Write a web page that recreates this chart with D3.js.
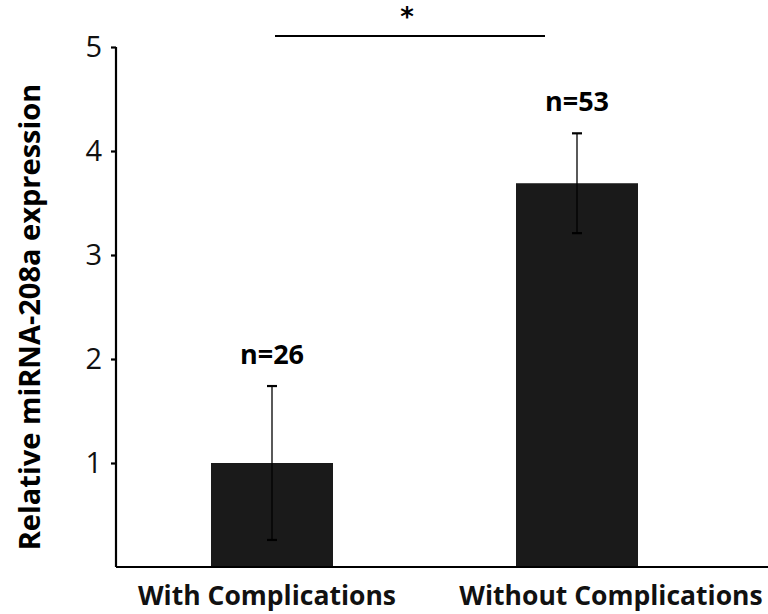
<!DOCTYPE html>
<html>
<head>
<meta charset="utf-8">
<script src="https://cdn.jsdelivr.net/npm/d3@7"></script>
<style>
  body { margin: 0; background: #fff; }
  svg { display: block; }
</style>
</head>
<body>
<div id="chart"></div>
<script>
// data
var groups = ["With Complications", "Without Complications"];
var means = [1.0, 3.69];
var errs = [0.74, 0.48];
var counts = ["n=26", "n=53"];
var yTicks = [1, 2, 3, 4, 5];

var width = 768, height = 614;

var svg = d3.select("#chart").append("svg")
  .attr("width", width)
  .attr("height", height);

// scales
var y = d3.scaleLinear().domain([0, 5]).range([567, 47]);
var x = d3.scaleBand().domain(groups).range([211, 638]).paddingInner(0.6);

// bars
svg.selectAll(".bar")
  .data(means)
  .enter()
  .append("rect")
  .attr("class", "bar")
  .attr("x", function(d, i) { return x(groups[i]); })
  .attr("y", function(d) { return y(d); })
  .attr("width", x.bandwidth())
  .attr("height", function(d) { return y(0) - y(d); })
  .style("fill", "#1a1a1a");

// error bars
var cap = 5;
var eb = svg.selectAll(".err")
  .data(means)
  .enter()
  .append("g")
  .attr("class", "err");
eb.append("line")
  .attr("x1", function(d, i) { return x(groups[i]) + x.bandwidth() / 2; })
  .attr("x2", function(d, i) { return x(groups[i]) + x.bandwidth() / 2; })
  .attr("y1", function(d, i) { return y(d + errs[i]); })
  .attr("y2", function(d, i) { return y(d - errs[i]); })
  .style("stroke", "#000")
  .style("stroke-width", 1.3);
[1, -1].forEach(function(s) {
  eb.append("line")
    .attr("x1", function(d, i) { return x(groups[i]) + x.bandwidth() / 2 - cap; })
    .attr("x2", function(d, i) { return x(groups[i]) + x.bandwidth() / 2 + cap; })
    .attr("y1", function(d, i) { return y(d + s * errs[i]); })
    .attr("y2", function(d, i) { return y(d + s * errs[i]); })
    .style("stroke", "#000")
    .style("stroke-width", 2.2);
});

// n labels
svg.selectAll(".nlab")
  .data(means)
  .enter()
  .append("text")
  .attr("class", "nlab")
  .attr("x", function(d, i) { return x(groups[i]) + x.bandwidth() / 2; })
  .attr("y", function(d, i) { return y(d + errs[i]) - 22; })
  .attr("text-anchor", "middle")
  .style("font-family", "'Open Sans', sans-serif")
  .style("font-weight", 700)
  .style("font-size", "27px")
  .text(function(d, i) { return counts[i]; });

// y axis
var yAxis = svg.append("g")
  .attr("transform", "translate(116,0)")
  .call(d3.axisLeft(y).tickValues(yTicks).tickSize(5).tickPadding(9).tickFormat(d3.format("d")));
yAxis.select(".domain").attr("d", "M0," + y(5) + "V" + y(0)).style("stroke-width", 2.2);
yAxis.selectAll(".tick line").style("stroke-width", 2.2);
yAxis.selectAll(".tick text")
  .style("font-family", "'Open Sans', sans-serif")
  .style("font-size", "29px")
  .style("fill", "#111");

// x axis (labels sit a little off the bar centres in the original)
var labelShift = [-5, 34];
var xAxis = svg.append("g")
  .attr("transform", "translate(0," + y(0) + ")")
  .call(d3.axisBottom(x).tickSize(0).tickPadding(19));
xAxis.select(".domain").attr("d", "M116,0H768").style("stroke-width", 2.2);
xAxis.selectAll(".tick text")
  .attr("dx", function(d, i) { return labelShift[i]; })
  .style("font-family", "'Open Sans', sans-serif")
  .style("font-weight", 700)
  .style("font-size", "26.5px")
  .style("fill", "#111");

// y title
svg.append("text")
  .attr("transform", "translate(40,317) rotate(-90)")
  .attr("text-anchor", "middle")
  .style("font-family", "'Open Sans', sans-serif")
  .style("font-weight", 700)
  .style("font-size", "29px")
  .text("Relative miRNA-208a expression");

// significance bar
svg.append("line")
  .attr("x1", 275).attr("x2", 545)
  .attr("y1", 36).attr("y2", 36)
  .style("stroke", "#000")
  .style("stroke-width", 1.8);
svg.append("text")
  .attr("x", 407)
  .attr("y", 26)
  .attr("text-anchor", "middle")
  .style("font-family", "'DejaVu Sans', sans-serif")
  .style("font-weight", 700)
  .style("font-size", "26px")
  .text("*");
</script>
</body>
</html>
